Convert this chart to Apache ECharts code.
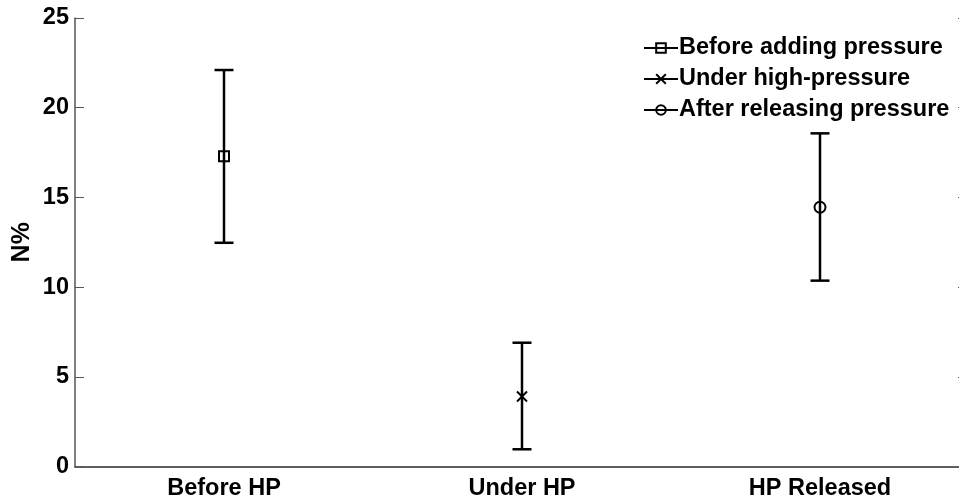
<!DOCTYPE html>
<html>
<head>
<meta charset="utf-8">
<script src="https://cdn.jsdelivr.net/npm/echarts@6/dist/echarts.min.js"></script>
<style>html,body{margin:0;padding:0;background:#fff;}#c{width:959px;height:502px;}</style>
</head>
<body>
<div id="c"></div>
<script>
const categories = ['Before HP', 'Under HP', 'HP Released'];
const seriesNames = ['Before adding pressure', 'Under high-pressure', 'After releasing pressure'];
const means = [17.3, 3.9, 14.45];
const lower = [12.47, 0.96, 10.36];
const upper = [22.1, 6.9, 18.57];
const yMin = 0, yMax = 25, yStep = 5;

const FONT = 'Liberation Sans, Arial, sans-serif';
const AX = '#555';
const symbols = ['rect', 'path://M0,0 L10,10 M10,0 L0,10', 'circle'];
const symbolSizes = [10, 10, 11];

const chart = echarts.init(document.getElementById('c'), null, {renderer: 'canvas'});

const markerSeries = seriesNames.map((name, k) => ({
  name: name,
  type: 'line',
  xAxisIndex: 0, yAxisIndex: 0,
  data: means.map((v, i) => (i === k ? v : null)),
  symbol: symbols[k],
  symbolSize: symbolSizes[k],
  showSymbol: true,
  lineStyle: {color: '#000', width: 1.6},
  itemStyle: {color: 'rgba(0,0,0,0)', borderColor: '#000', borderWidth: 2},
  emphasis: {disabled: true},
  z: 5,
  animation: false
}));

const errData = categories.map((c, i) => [i, lower[i], upper[i]]);

const option = {
  animation: false,
  backgroundColor: '#fff',
  grid: {left: 75, top: 18, width: 894, height: 448.5, containLabel: false, outerBoundsMode: 'none'},
  legend: {
    orient: 'vertical',
    left: 638, top: 31,
    itemWidth: 34, itemHeight: 12, itemGap: 7,
    data: seriesNames,
    textStyle: {fontFamily: FONT, fontWeight: 'bold', fontSize: 23.5, color: '#000', padding: [0, 0, 0, -4]},
    selectedMode: false
  },
  xAxis: [{
    type: 'category', data: categories, boundaryGap: true, position: 'bottom',
    axisLine: {lineStyle: {color: AX, width: 1.5}},
    axisTick: {inside: true, alignWithLabel: true, length: 9, lineStyle: {color: AX}},
    axisLabel: {fontFamily: FONT, fontWeight: 'bold', fontSize: 23.5, color: '#000', margin: 10}
  }, {
    type: 'category', data: categories, boundaryGap: true, position: 'top',
    axisLine: {lineStyle: {color: AX, width: 1.5}},
    axisTick: {inside: true, alignWithLabel: true, length: 9, lineStyle: {color: AX}},
    axisLabel: {show: false}
  }],
  yAxis: [{
    type: 'value', min: yMin, max: yMax, interval: yStep, position: 'left',
    name: 'N%', nameLocation: 'middle', nameGap: 40, nameMoveOverlap: false,
    nameTextStyle: {fontFamily: FONT, fontWeight: 'bold', fontSize: 25, color: '#000'},
    axisLine: {show: true, lineStyle: {color: AX, width: 1.5}},
    axisTick: {show: true, inside: true, length: 9, lineStyle: {color: AX}},
    axisLabel: {fontFamily: FONT, fontWeight: 'bold', fontSize: 23.5, color: '#000', margin: 6},
    splitLine: {show: false}
  }, {
    type: 'value', min: yMin, max: yMax, interval: yStep, position: 'right',
    axisLine: {show: true, lineStyle: {color: AX, width: 1.5}},
    axisTick: {show: true, inside: true, length: 11, lineStyle: {color: AX}},
    axisLabel: {show: false},
    splitLine: {show: false}
  }],
  series: [{
    type: 'custom',
    name: 'errors',
    xAxisIndex: 0, yAxisIndex: 0,
    data: errData,
    encode: {x: 0, y: [1, 2]},
    z: 3,
    renderItem: function (params, api) {
      const lo = api.coord([api.value(0), api.value(1)]);
      const hi = api.coord([api.value(0), api.value(2)]);
      const hw = 9.5;
      const st = {stroke: '#000', lineWidth: 2.5};
      return {
        type: 'group',
        children: [
          {type: 'line', shape: {x1: lo[0], y1: lo[1], x2: hi[0], y2: hi[1]}, style: st},
          {type: 'line', shape: {x1: lo[0] - hw, y1: lo[1], x2: lo[0] + hw, y2: lo[1]}, style: st},
          {type: 'line', shape: {x1: hi[0] - hw, y1: hi[1], x2: hi[0] + hw, y2: hi[1]}, style: st}
        ]
      };
    }
  }].concat(markerSeries)
};
chart.setOption(option);
</script>
</body>
</html>
